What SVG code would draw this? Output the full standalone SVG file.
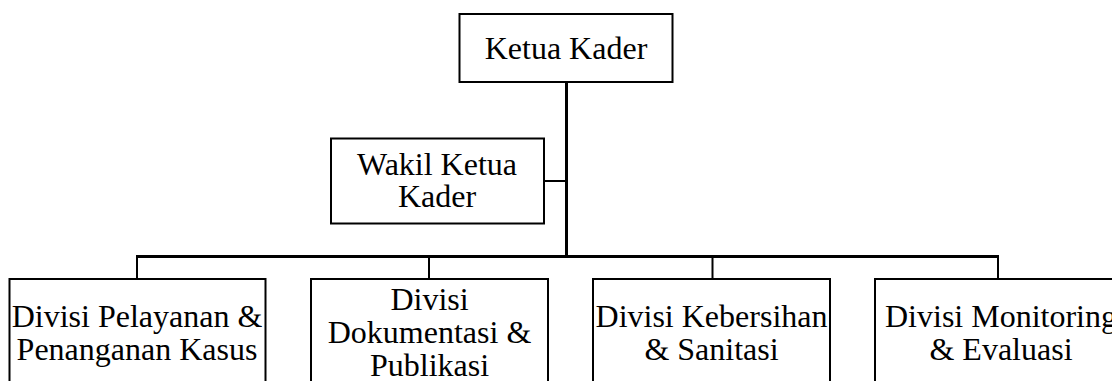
<svg xmlns="http://www.w3.org/2000/svg" width="1112" height="381" viewBox="0 0 1112 381">
<style>
.box{fill:#fff;stroke:#000;stroke-width:2}
.t{font-family:'Liberation Serif','DejaVu Serif',serif;font-size:32px;fill:#000;text-anchor:middle}
.c{stroke:#000;fill:none}
</style>
<rect width="1112" height="381" fill="#fff"/>
<g id="connectors">
<line class="c" x1="566.5" y1="82" x2="566.5" y2="258" stroke-width="3"/>
<line class="c" x1="544" y1="181" x2="566" y2="181" stroke-width="2"/>
<line class="c" x1="136" y1="256.5" x2="999" y2="256.5" stroke-width="3"/>
<line class="c" x1="137" y1="256" x2="137" y2="279" stroke-width="2"/>
<line class="c" x1="429" y1="256" x2="429" y2="279" stroke-width="2"/>
<line class="c" x1="712.5" y1="256" x2="712.5" y2="279" stroke-width="2"/>
<line class="c" x1="998" y1="256" x2="998" y2="279" stroke-width="2"/>
</g>
<g id="ketua">
<rect class="box" x="459.5" y="14" width="213" height="68"/>
<text class="t" font-family="Liberation Serif" x="566" y="59">Ketua Kader</text>
</g>
<g id="wakil">
<rect class="box" x="331" y="138.5" width="213" height="85"/>
<text class="t" font-family="Liberation Serif" x="437" y="175">Wakil Ketua</text>
<text class="t" font-family="Liberation Serif" x="437" y="207">Kader</text>
</g>
<g id="div-pelayanan">
<rect class="box" x="9.5" y="279" width="256" height="130"/>
<text class="t" font-family="Liberation Serif" x="137" y="326.5">Divisi Pelayanan &amp;</text>
<text class="t" font-family="Liberation Serif" x="137" y="360">Penanganan Kasus</text>
</g>
<g id="div-dokumentasi">
<rect class="box" x="311" y="279" width="237" height="130"/>
<text class="t" font-family="Liberation Serif" x="429.5" y="309.5">Divisi</text>
<text class="t" font-family="Liberation Serif" x="429.5" y="342.5">Dokumentasi &amp;</text>
<text class="t" font-family="Liberation Serif" x="429.5" y="375.5">Publikasi</text>
</g>
<g id="div-kebersihan">
<rect class="box" x="593" y="279" width="237" height="130"/>
<text class="t" font-family="Liberation Serif" x="711.5" y="326.5">Divisi Kebersihan</text>
<text class="t" font-family="Liberation Serif" x="711.5" y="360">&amp; Sanitasi</text>
</g>
<g id="div-monitoring">
<rect class="box" x="875" y="279" width="252" height="130"/>
<text class="t" font-family="Liberation Serif" x="1001" y="326.5">Divisi Monitoring</text>
<text class="t" font-family="Liberation Serif" x="1001" y="360">&amp; Evaluasi</text>
</g>
</svg>
